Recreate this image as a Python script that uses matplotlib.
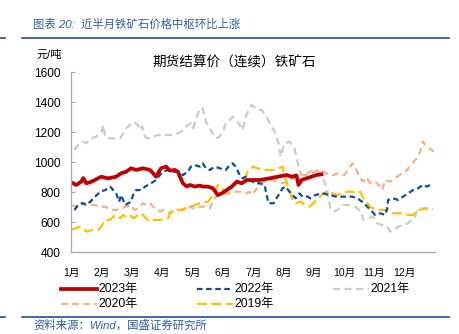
import matplotlib
matplotlib.use("Agg")
import matplotlib.pyplot as plt
from matplotlib.lines import Line2D

plt.rcParams['font.family'] = ['Liberation Sans', 'Noto Sans CJK SC', 'DejaVu Sans']

# ---------------- data (day of year, price yuan/ton) ----------------
d2023 = [2, 5, 10, 12, 15, 20, 30, 37, 45, 50, 55, 60, 65, 72, 79, 82, 85, 90, 92, 95, 99, 104, 107,
         109, 112, 116, 119, 124, 129, 132, 137, 142, 147, 151, 156, 161, 166, 171, 176, 181, 189,
         199, 207, 216, 221, 226, 228, 231, 236, 241, 246, 251]
v2023 = [860, 849, 871, 895, 860, 870, 904, 893, 904, 927, 937, 960, 949, 960, 949, 927, 904, 960, 965,
         971, 945, 949, 937, 904, 860, 838, 849, 838, 845, 838, 838, 827, 782, 793, 815, 838, 871, 860,
         882, 882, 882, 893, 904, 915, 904, 912, 849, 882, 893, 904, 915, 920]

d2022 = [3, 7, 12, 15, 19, 24, 29, 34, 39, 42, 45, 48, 50, 54, 57, 60, 62, 65, 70, 74, 77, 80, 85, 89,
         92, 97, 102, 107, 112, 117, 120, 124, 129, 132, 135, 139, 144, 149, 155, 159, 162, 165, 169,
         172, 175, 180, 184, 189, 194, 196, 198, 203, 205, 209, 212, 215, 219, 222, 225, 229, 232, 237,
         240, 245, 252, 259, 266, 275, 282, 287, 292, 297, 302, 305, 310, 315, 317, 318, 323, 328, 333,
         338, 343, 348, 353, 357, 363]
v2022 = [682, 715, 727, 715, 737, 771, 804, 815, 838, 815, 793, 737, 782, 715, 727, 737, 782, 815, 815,
         838, 849, 860, 882, 915, 937, 949, 937, 937, 915, 937, 971, 982, 971, 993, 960, 949, 971, 960,
         949, 982, 993, 971, 915, 893, 904, 880, 860, 860, 849, 782, 727, 727, 749, 793, 827, 838, 804,
         782, 760, 793, 771, 771, 760, 782, 793, 782, 771, 771, 771, 760, 737, 704, 671, 649, 660, 649,
         693, 749, 760, 749, 771, 793, 815, 827, 849, 838, 860]

d2021 = [3, 7, 12, 15, 20, 25, 30, 32, 34, 37, 44, 49, 52, 55, 59, 62, 67, 69, 71, 74, 77, 82, 87, 92,
         97, 102, 107, 110, 114, 117, 120, 122, 125, 129, 132, 135, 139, 142, 145, 149, 152, 155, 159,
         162, 165, 169, 172, 175, 179, 181, 187, 191, 196, 201, 205, 208, 210, 214, 219, 224, 227, 230,
         234, 237, 242, 247, 251, 254, 257, 260, 263, 267, 273, 280, 285, 291, 293, 298, 303, 307, 312,
         317, 320, 323, 328, 333, 338, 345, 347, 352, 358, 363]
v2021 = [1082, 1115, 1137, 1127, 1160, 1171, 1193, 1249, 1171, 1160, 1160, 1160, 1193, 1227, 1249,
         1271, 1249, 1215, 1240, 1171, 1160, 1171, 1182, 1182, 1182, 1182, 1193, 1204, 1227, 1249, 1260,
         1227, 1282, 1360, 1360, 1271, 1227, 1193, 1160, 1171, 1204, 1260, 1282, 1304, 1282, 1249, 1215,
         1304, 1360, 1382, 1349, 1349, 1304, 1238, 1193, 1127, 1038, 1127, 1137, 1093, 1004, 927, 904,
         927, 949, 949, 904, 871, 810, 693, 671, 682, 715, 715, 704, 671, 616, 627, 638, 593, 582, 571,
         538, 549, 571, 582, 593, 638, 682, 693, 693, 686]

d2020 = [1, 5, 9, 12, 15, 24, 29, 34, 37, 39, 45, 50, 55, 59, 62, 64, 69, 72, 75, 79, 82, 85, 89, 92,
         95, 99, 102, 105, 110, 115, 120, 122, 125, 129, 134, 139, 142, 145, 150, 155, 160, 165, 170,
         175, 179, 181, 185, 190, 194, 197, 202, 207, 213, 218, 223, 230, 235, 240, 245, 248, 253, 258,
         263, 268, 274, 278, 282, 285, 289, 293, 296, 300, 305, 310, 312, 315, 320, 327, 332, 337, 342,
         347, 350, 353, 357, 362, 364]
v2020 = [715, 704, 737, 727, 715, 715, 704, 704, 693, 682, 682, 693, 704, 715, 693, 682, 704, 727, 715,
         727, 704, 693, 671, 682, 671, 660, 671, 682, 682, 682, 704, 693, 693, 704, 704, 693, 737, 771,
         782, 793, 793, 804, 804, 793, 804, 782, 815, 860, 871, 882, 882, 871, 860, 882, 893, 915, 915,
         927, 937, 949, 937, 920, 915, 927, 915, 950, 993, 971, 900, 871, 900, 860, 871, 838, 815, 882,
         871, 904, 927, 949, 993, 1027, 1071, 1138, 1100, 1082, 1071]

d2019 = [0, 4, 9, 12, 15, 22, 27, 30, 34, 39, 44, 49, 52, 55, 59, 62, 65, 69, 72, 75, 79, 84, 89, 97,
         100, 104, 109, 114, 119, 124, 129, 137, 140, 144, 147, 150, 154, 157, 160, 165, 169, 172, 175,
         177, 180, 182, 187, 193, 203, 208, 212, 214, 217, 220, 222, 225, 230, 235, 239, 243, 248, 253,
         257, 262, 267, 272, 277, 282, 287, 290, 293, 297, 300, 303, 308, 313, 318, 323, 328, 333, 338,
         343, 347, 352, 358, 363]
v2019 = [549, 560, 571, 560, 538, 549, 549, 571, 616, 616, 649, 627, 649, 638, 649, 627, 638, 660, 649,
         627, 604, 616, 616, 627, 671, 682, 682, 693, 704, 715, 727, 737, 760, 793, 849, 838, 804, 793,
         815, 860, 871, 893, 904, 937, 949, 971, 960, 949, 949, 960, 971, 915, 849, 793, 749, 727, 737,
         715, 704, 727, 760, 793, 804, 793, 782, 793, 804, 804, 793, 804, 760, 727, 704, 693, 682, 682,
         682, 660, 660, 660, 649, 649, 682, 686, 693, 693]

months = ['1月', '2月', '3月', '4月', '5月', '6月', '7月', '8月', '9月', '10月', '11月', '12月']
yticks = [400, 600, 800, 1000, 1200, 1400, 1600]

# ---------------- styling ----------------
C23, C22, C21, C20, C19 = '#C00000', '#0F4C9E', '#CACACA', '#F4B183', '#FFC000'
HDR = '#2F5DA6'
W, H = 460, 334


def fx(px):
    return px / W


def fy(py):
    return 1 - py / H


fig = plt.figure(figsize=(4.6, 3.34), dpi=100)
ax = fig.add_axes([fx(71.3), fy(252.3), (435 - 71.3) / W, 180 / H])

styles = {
    '2021年': dict(color=C21, lw=1.6, dashes=(3.2, 2)),
    '2020年': dict(color=C20, lw=1.6, dashes=(3, 2)),
    '2019年': dict(color=C19, lw=1.6, dashes=(4.5, 2)),
    '2022年': dict(color=C22, lw=1.6, dashes=(2.5, 1.6)),
    '2023年': dict(color=C23, lw=2.7),
}
ax.plot(d2021, v2021, **styles['2021年'])
ax.plot(d2020, v2020, **styles['2020年'])
ax.plot(d2019, v2019, **styles['2019年'])
ax.plot(d2022, v2022, **styles['2022年'])
ax.plot(d2023, v2023, **styles['2023年'])

ax.set_xlim(0, 365)
ax.set_ylim(400, 1600)
ax.set_yticks(yticks)
ax.set_yticklabels([str(t) for t in yticks], fontsize=8.6, color='#000000')
ax.set_xticks([i * 365 / 12 for i in range(12)])
ax.set_xticklabels(months, fontsize=7.6)
ax.tick_params(axis='x', length=0, pad=11)
ax.tick_params(axis='y', direction='in', length=3, width=0.8, color='#A6A6A6', pad=8)
for s in ['top', 'right']:
    ax.spines[s].set_visible(False)
for s in ['left', 'bottom']:
    ax.spines[s].set_color('#A6A6A6')
    ax.spines[s].set_linewidth(0.9)

# legend (drawn manually for exact placement)
legend_items = [('2023年', 61, 289.3), ('2022年', 197, 289.3), ('2021年', 333, 289.3),
                ('2020年', 61, 304.0), ('2019年', 197, 304.0)]
for lab, x0, y0 in legend_items:
    fig.add_artist(Line2D([fx(x0), fx(x0 + 36)], [fy(y0), fy(y0)], **styles[lab]))
    fig.text(fx(x0 + 37), fy(y0), lab, fontsize=8.7, va='center', ha='left', color='#000000')

# header / footer
fig.text(fx(33), fy(24), '图表 20:  近半月铁矿石价格中枢环比上涨', fontsize=8.2, color=HDR,
         style='italic', va='center', ha='left')
fig.add_artist(Line2D([fx(22), fx(449)], [fy(38.3)] * 2, color='#1F4E9C', lw=1.2))
fig.add_artist(Line2D([0, fx(5)], [fy(38.3)] * 2, color='#1F4E9C', lw=1.2))
fig.text(fx(37), fy(55), '元/吨', fontsize=8, color='#000000', va='center', ha='left')
fig.text(fx(234), fy(62), '期货结算价（连续）铁矿石', fontsize=9.8, color='#000000',
         va='center', ha='center')
fig.add_artist(Line2D([fx(22), fx(449)], [fy(316.7)] * 2, color='#1F4E9C', lw=1.2))
fig.add_artist(Line2D([0, fx(5)], [fy(316.7)] * 2, color='#1F4E9C', lw=1.2))
fig.text(fx(33), fy(325.5), '资料来源：Wind，国盛证券研究所', fontsize=8.2, color=HDR,
         style='italic', va='center', ha='left')

fig.savefig('out.png', dpi=100)
